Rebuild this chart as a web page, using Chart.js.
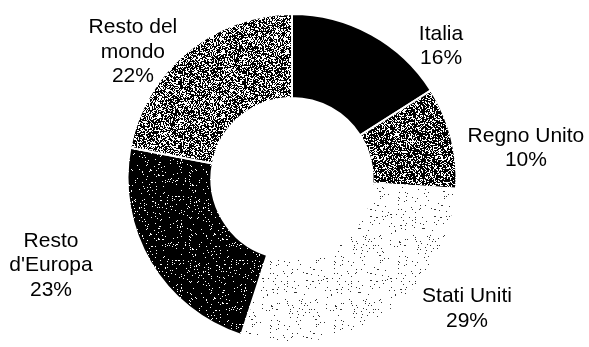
<!DOCTYPE html>
<html lang="it">
<head>
<meta charset="UTF-8">
<title>Ripartizione</title>
<script src="https://cdn.jsdelivr.net/npm/chart.js"></script>
<style>
  html, body { margin: 0; padding: 0; background: #fff; }
  #wrap { width: 589px; height: 347px; }
</style>
</head>
<body>
<div id="wrap"><canvas id="pieChart" width="589" height="347"></canvas></div>
<script>
// data (clockwise from the top)
const categories = [['Italia'], ['Regno Unito'], ['Stati Uniti'], ['Resto', "d'Europa"], ['Resto del', 'mondo']];
const shares = [16, 10, 29, 23, 22];

// label anchors: centre x and first baseline, in units of the outer radius from the centre
const labelOffsets = [[0.906, -0.842], [1.422, -0.222], [1.064, 0.751], [-1.465, 0.416], [-0.967, -0.884]];

// stippled fills, built from a fixed hash so they look like the print screens
function hash(x, y, s) {
    let h = (x * 374761393 + y * 668265263 + s * 982451653) | 0;
    h = (h ^ (h >>> 13)) * 1274126177 | 0;
    return ((h ^ (h >>> 16)) >>> 0) / 4294967296;
}
function stipple(bg, fg, density, seed) {
    const c = document.createElement('canvas');
    c.width = 64; c.height = 64;
    const g = c.getContext('2d');
    g.fillStyle = bg;
    g.fillRect(0, 0, 64, 64);
    g.fillStyle = fg;
    for (let y = 0; y < 64; y++) {
        for (let x = 0; x < 64; x++) {
            if (hash(x, y, seed) < density) g.fillRect(x, y, 1, 1);
        }
    }
    return g.createPattern(c, 'repeat');
}
const ctx0 = document.getElementById('pieChart').getContext('2d');
const fills = [
    '#000000',
    stipple('#ffffff', '#000000', 0.66, 1),
    stipple('#ffffff', '#333333', 0.035, 2),
    stipple('#000000', '#ffffff', 0.055, 3),
    stipple('#ffffff', '#000000', 0.56, 4)
];

const outsideLabels = {
    id: 'outsideLabels',
    afterDatasetsDraw(chart) {
        const arc = chart.getDatasetMeta(0).data[0];
        if (!arc) return;
        const cx = arc.x, cy = arc.y, r = arc.outerRadius;
        const ctx = chart.ctx;
        ctx.save();
        ctx.fillStyle = '#000';
        ctx.font = '21px "Liberation Sans", Arial, sans-serif';
        ctx.textAlign = 'center';
        ctx.textBaseline = 'alphabetic';
        categories.forEach((lines, i) => {
            const x = cx + labelOffsets[i][0] * r;
            let y = cy + labelOffsets[i][1] * r;
            lines.concat([shares[i] + '%']).forEach(t => {
                ctx.fillText(t, x, y);
                y += 24.5;
            });
        });
        ctx.restore();
    }
};

new Chart(ctx0, {
    type: 'doughnut',
    data: {
        labels: categories.map(l => l.join(' ')),
        datasets: [{
            data: shares,
            backgroundColor: fills,
            borderColor: '#ffffff',
            borderWidth: 2
        }]
    },
    options: {
        responsive: false,
        animation: false,
        cutout: '49%',
        layout: { padding: { top: 13, bottom: 3, left: 0, right: 5 } },
        plugins: { legend: { display: false }, tooltip: { enabled: false } },
        events: []
    },
    plugins: [outsideLabels]
});
</script>
</body>
</html>
